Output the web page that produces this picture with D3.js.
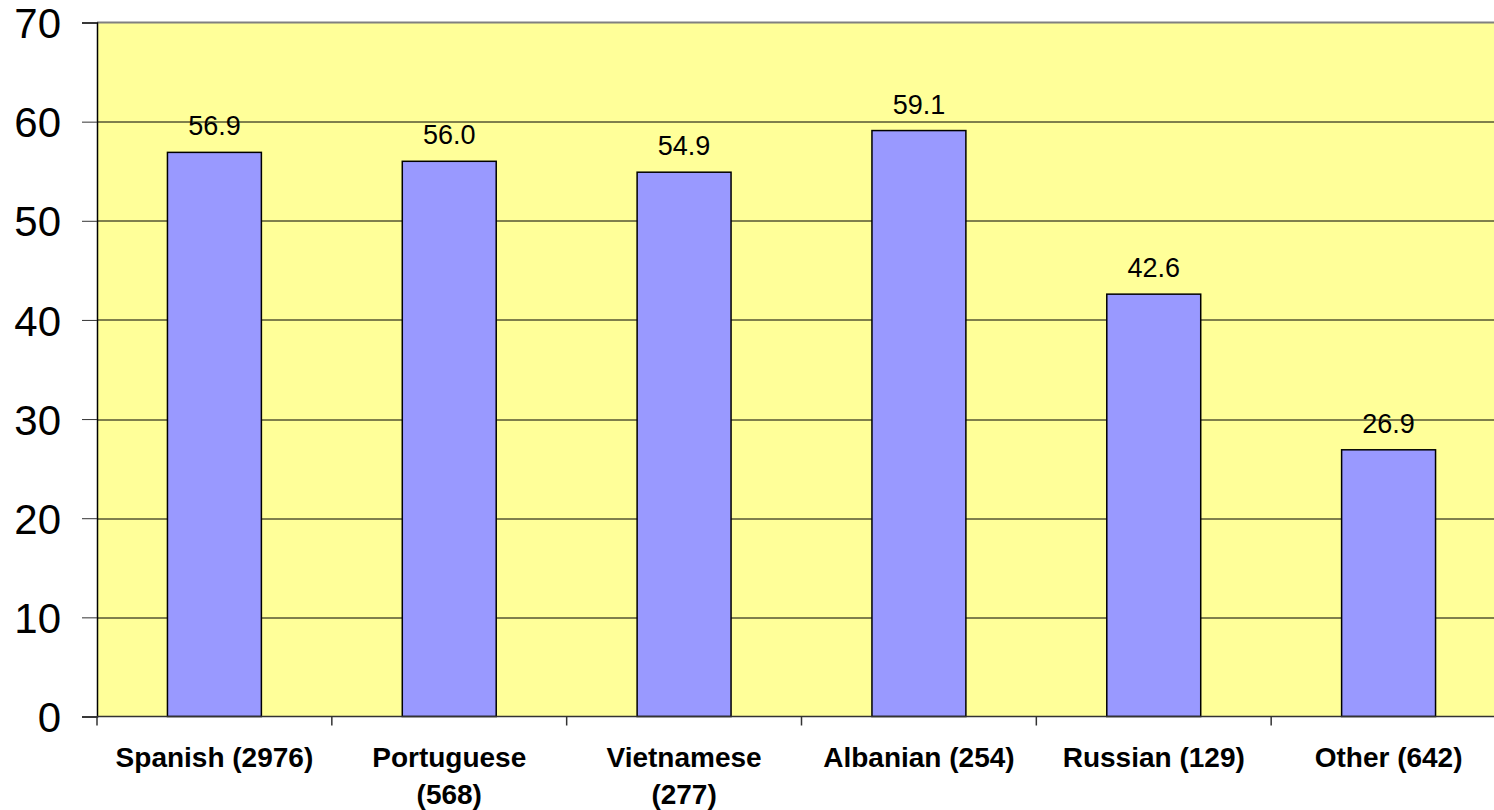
<!DOCTYPE html>
<html>
<head>
<meta charset="utf-8">
<script src="https://cdn.jsdelivr.net/npm/d3@7"></script>
<style>
  html, body { margin: 0; padding: 0; background: #ffffff; }
  svg { display: block; }
</style>
</head>
<body>
<svg id="chart" width="1494" height="810"></svg>
<script>
// Chart data
const categories = ["Spanish (2976)", "Portuguese (568)", "Vietnamese (277)", "Albanian (254)", "Russian (129)", "Other (642)"];
const values = [56.9, 56.0, 54.9, 59.1, 42.6, 26.9];
const yTicks = [0, 10, 20, 30, 40, 50, 60, 70];

const svg = d3.select("#chart");
const margin = { left: 97, top: 22.5, right: -12, bottom: 93.5 };
const width = 1494 - margin.left - margin.right;
const height = 810 - margin.top - margin.bottom;

const g = svg.append("g").attr("transform", `translate(${margin.left},${margin.top})`);

const x = d3.scaleBand()
  .domain(categories)
  .range([0, width])
  .paddingInner(0.6)
  .paddingOuter(0.3);

const y = d3.scaleLinear().domain([0, 70]).range([height, 0]);

// Plot area background
g.append("rect")
  .attr("x", 0).attr("y", 0)
  .attr("width", width).attr("height", height)
  .attr("fill", "#ffff99");

// Horizontal gridlines
g.selectAll("line.grid")
  .data(yTicks.filter(t => t > 0 && t < 70))
  .join("line")
  .attr("class", "grid")
  .attr("x1", 0).attr("x2", width)
  .attr("y1", d => Math.round(y(d)) + 0.5)
  .attr("y2", d => Math.round(y(d)) + 0.5)
  .attr("stroke", "#000")
  .attr("stroke-width", 1);

// Top border of the plot area
g.append("line")
  .attr("x1", 0).attr("x2", width)
  .attr("y1", y(70)).attr("y2", y(70))
  .attr("stroke", "#808080")
  .attr("stroke-width", 2);

// Bars
g.selectAll("rect.bar")
  .data(values)
  .join("rect")
  .attr("class", "bar")
  .attr("x", (d, i) => x(categories[i]))
  .attr("y", d => y(d))
  .attr("width", x.bandwidth())
  .attr("height", d => y(0) - y(d))
  .attr("fill", "#9999ff")
  .attr("stroke", "#000")
  .attr("stroke-width", 1.5);

// Value labels
g.selectAll("text.val")
  .data(values)
  .join("text")
  .attr("class", "val")
  .attr("x", (d, i) => x(categories[i]) + x.bandwidth() / 2)
  .attr("y", d => y(d) - 17)
  .attr("text-anchor", "middle")
  .attr("font-family", "Liberation Sans, Arial, sans-serif")
  .attr("font-size", 27)
  .attr("fill", "#000")
  .text(d => d.toFixed(1));

// Y axis
const yAxis = d3.axisLeft(y)
  .tickValues(yTicks)
  .tickSize(15)
  .tickPadding(21)
  .tickFormat(d3.format("d"));

const ya = g.append("g").call(yAxis);
ya.select(".domain").attr("stroke", "#000").attr("stroke-width", 1.5);
ya.selectAll(".tick line").attr("stroke", "#333");
ya.selectAll(".tick text")
  .attr("font-family", "Liberation Sans, Arial, sans-serif")
  .attr("font-size", 42)
  .attr("fill", "#000")
  .attr("dy", "0.36em");

// X axis line and band-boundary ticks
g.append("line")
  .attr("x1", 0).attr("x2", width)
  .attr("y1", height).attr("y2", height)
  .attr("stroke", "#333")
  .attr("stroke-width", 1.5);

const step = x.step();
const boundaries = d3.range(categories.length + 1).map(i => x(categories[0]) - x.paddingOuter() * step + i * step);
g.selectAll("line.xtick")
  .data(boundaries)
  .join("line")
  .attr("class", "xtick")
  .attr("x1", d => d).attr("x2", d => d)
  .attr("y1", height).attr("y2", height + 9)
  .attr("stroke", "#333")
  .attr("stroke-width", 1.5);

// Category labels, wrapped onto two lines when too wide for the band
const maxLabelWidth = 215;
const labels = g.selectAll("text.cat")
  .data(categories)
  .join("text")
  .attr("class", "cat")
  .attr("text-anchor", "middle")
  .attr("font-family", "Liberation Sans, Arial, sans-serif")
  .attr("font-weight", "bold")
  .attr("font-size", 28)
  .attr("fill", "#000")
  .attr("transform", d => `translate(${x(d) + x.bandwidth() / 2},${height + 50})`);

labels.each(function(d) {
  const t = d3.select(this);
  const words = d.split(" ");
  const probe = t.append("tspan").attr("x", 0).text(d);
  const w = probe.node().getComputedTextLength();
  probe.remove();
  const lines = w > maxLabelWidth
    ? [words.slice(0, -1).join(" "), words[words.length - 1]]
    : [d];
  lines.forEach((line, i) => {
    t.append("tspan").attr("x", 0).attr("dy", i === 0 ? 0 : 37).text(line);
  });
});
</script>
</body>
</html>
